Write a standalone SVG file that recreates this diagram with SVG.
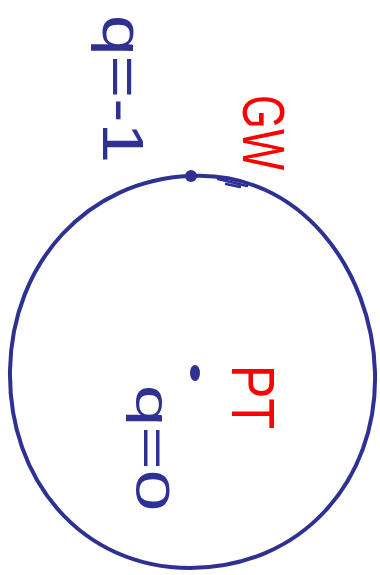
<svg xmlns="http://www.w3.org/2000/svg" width="380" height="575" viewBox="0 0 380 575">
<style>
.ink{fill:none;stroke:#2e3192;stroke-width:4;stroke-linecap:round;stroke-linejoin:round}
.blue{fill:#2e3192;font-family:"Liberation Sans",sans-serif}
.red{fill:#ff0000;font-family:"Liberation Sans",sans-serif}
</style>
<rect width="380" height="575" fill="#fff"/>
<g id="circle">
<path class="ink" d="M190,176 C300,170 372,270 375,372 C378,482 300,568 190,568 C82,568 8,480 10,370 C12,262 88,180 190,176 Z"/>
<path class="ink" d="M218,179 L247,186 M226,184 L240,187" style="stroke-width:2.5"/>
</g>
<g id="GW-point">
<circle cx="191" cy="176" r="6" fill="#2e3192"/>
</g>
<g id="PT-point">
<ellipse cx="195" cy="373" rx="5" ry="8" fill="#2e3192"/>
</g>
<g id="label-q-1">
<text class="blue" transform="translate(103,15) rotate(90)" font-size="58" textLength="148" lengthAdjust="spacingAndGlyphs">q=-1</text>
</g>
<g id="label-GW">
<text class="red" transform="translate(243,95) rotate(90)" font-size="60" textLength="75" lengthAdjust="spacingAndGlyphs">GW</text>
</g>
<g id="label-PT">
<text class="red" transform="translate(232,365) rotate(90)" font-size="62" textLength="64" lengthAdjust="spacingAndGlyphs">PT</text>
</g>
<g id="label-q0">
<text class="blue" transform="translate(136,385) rotate(90)" font-size="48" textLength="126" lengthAdjust="spacingAndGlyphs">q=0</text>
</g>
</svg>
